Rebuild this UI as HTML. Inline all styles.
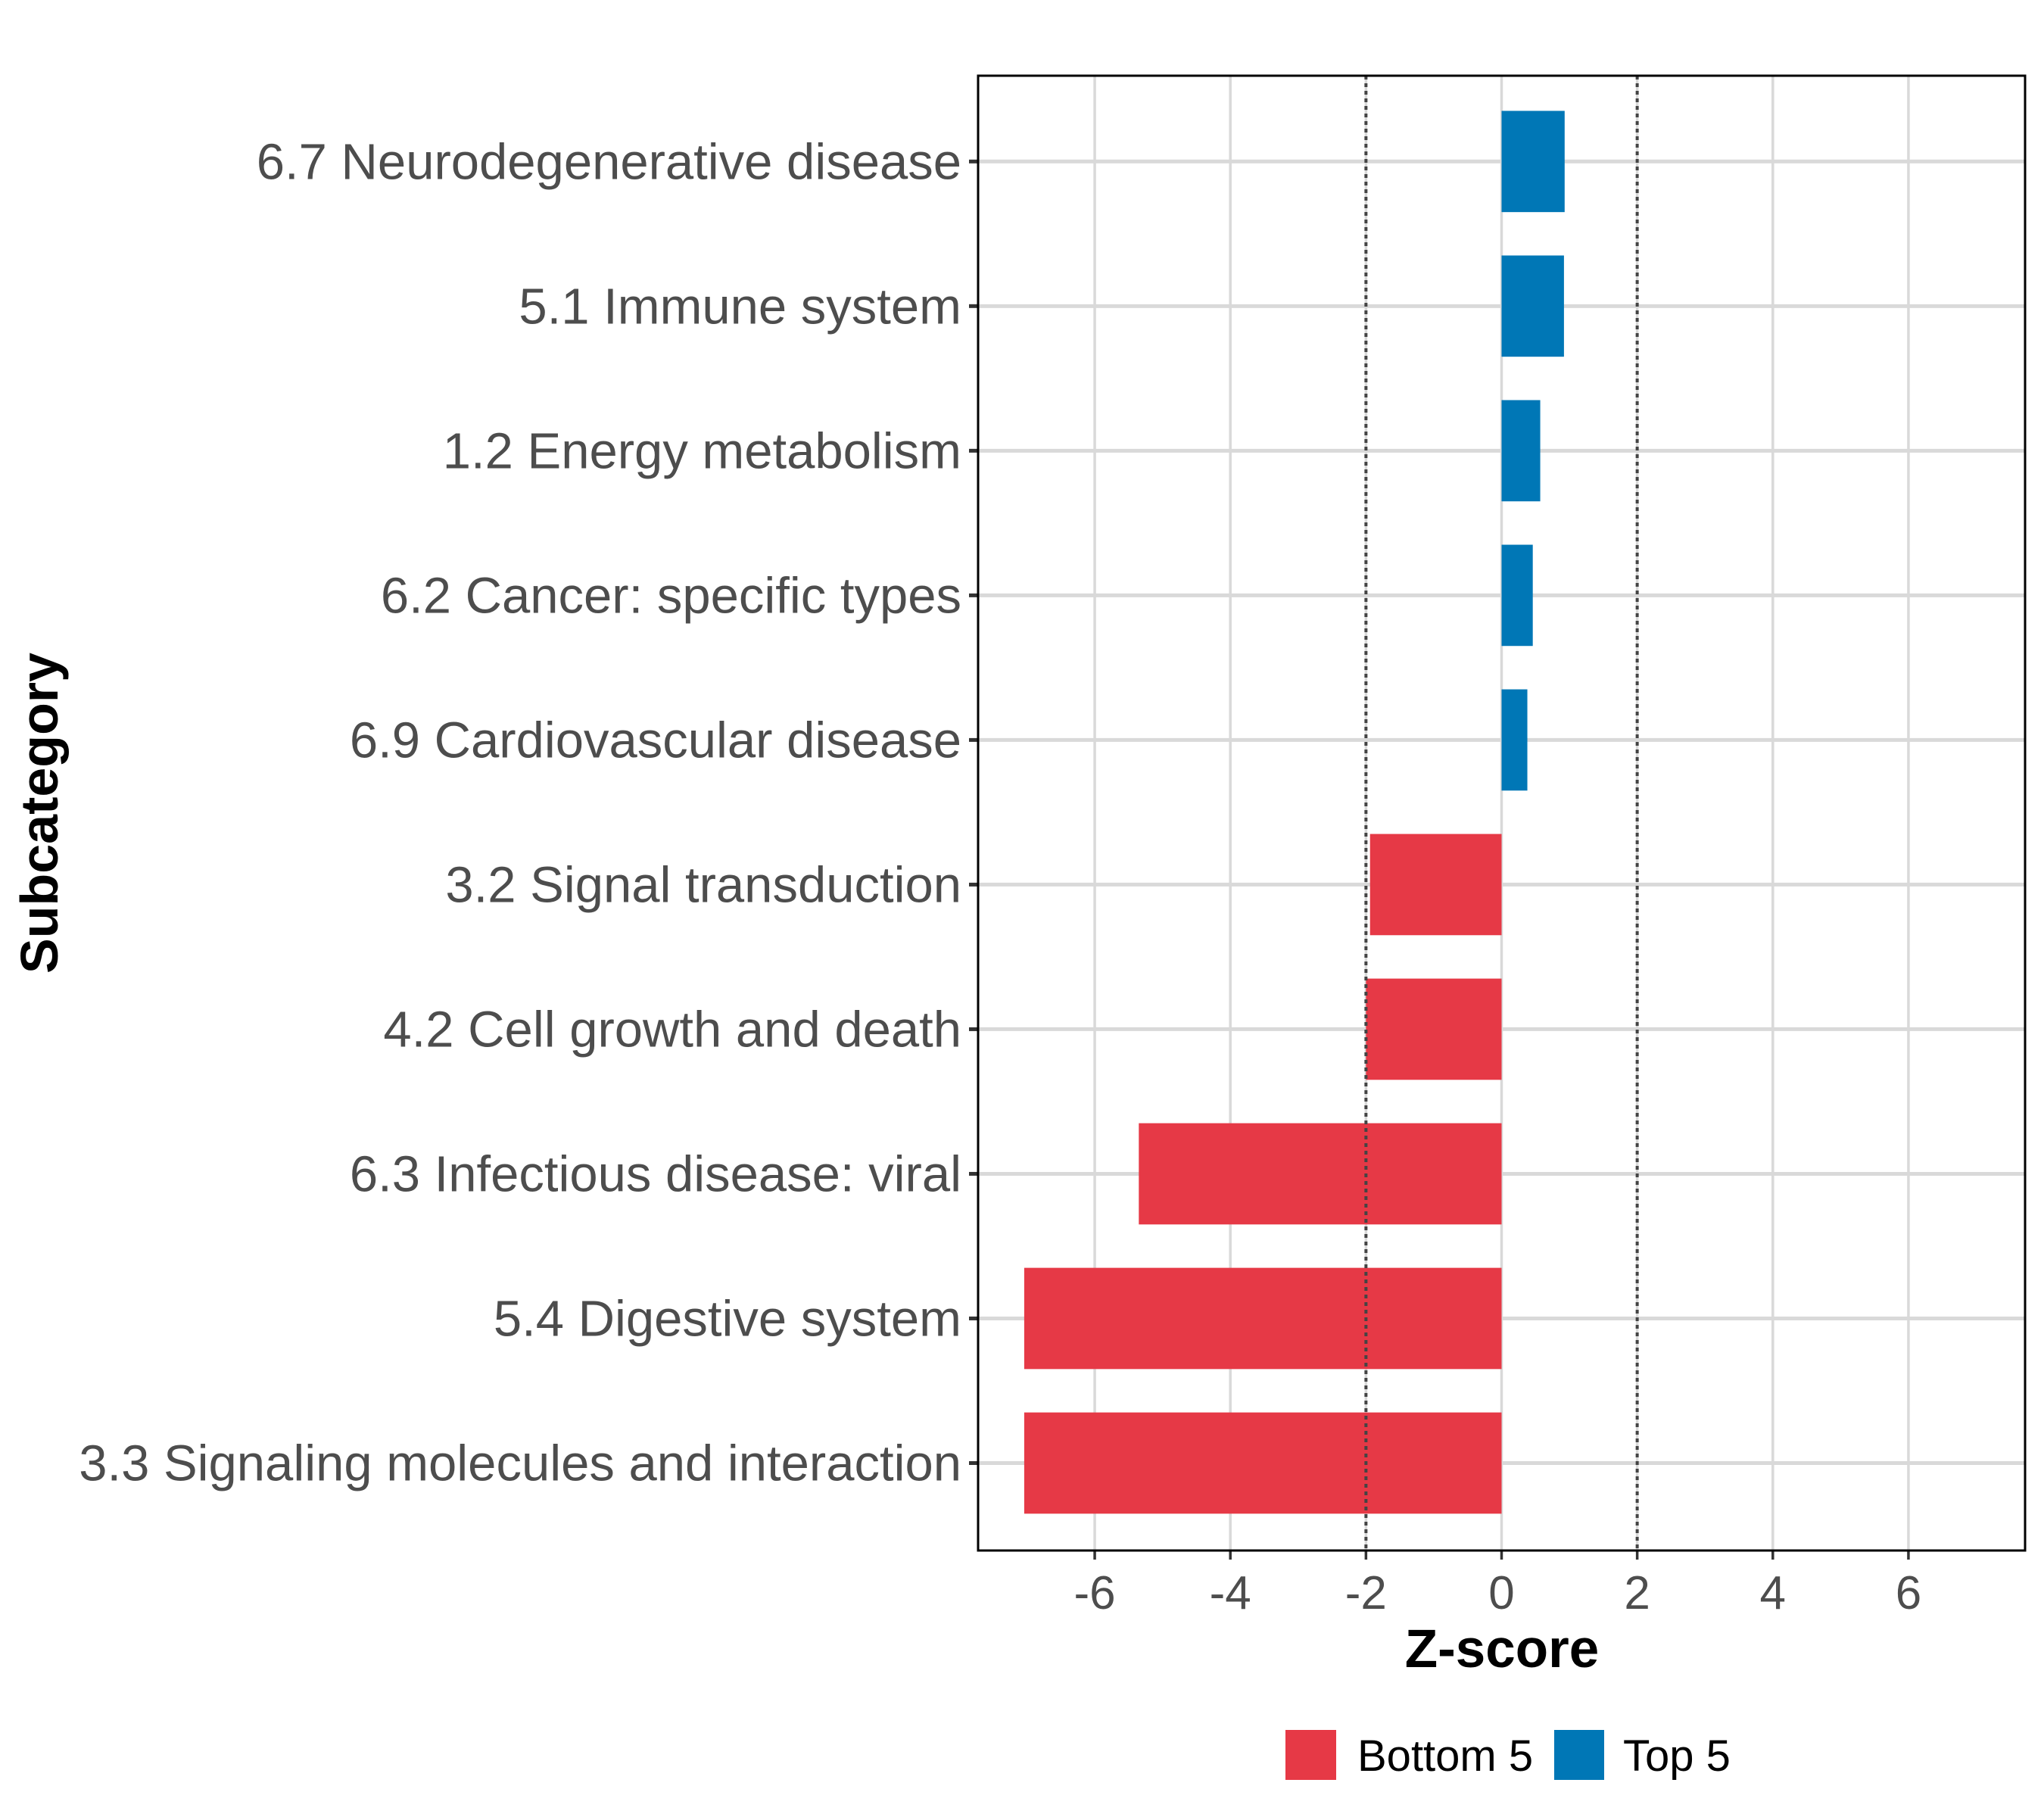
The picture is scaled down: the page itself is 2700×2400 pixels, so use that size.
<!DOCTYPE html>
<html><head><meta charset="utf-8"><style>
html,body{margin:0;padding:0;background:#fff;}
svg{display:block;font-family:"Liberation Sans",Arial,sans-serif;}
</style></head><body>
<svg id="chart" width="2700" height="2400" viewBox="0 0 2700 2400" xmlns="http://www.w3.org/2000/svg">
<rect width="2700" height="2400" fill="#fff"/>
<g id="grid"></g><g id="bars"></g><g id="refs"></g><g id="axes"></g>
<text x="1984" y="2202" font-size="71" font-weight="bold" text-anchor="middle" fill="#000">Z-score</text>
<text transform="translate(76,1074) rotate(-90)" font-size="70" font-weight="bold" text-anchor="middle" fill="#000">Subcategory</text>
<g>
<rect x="1698" y="2285" width="67" height="66" fill="#E63946"/>
<text x="1793" y="2339" font-size="58" fill="#000">Bottom 5</text>
<rect x="2053" y="2285" width="66" height="66" fill="#0077B6"/>
<text x="2144" y="2339" font-size="58" fill="#000">Top 5</text>
</g>
</svg>
<script>
const categories = ["6.7 Neurodegenerative disease","5.1 Immune system","1.2 Energy metabolism","6.2 Cancer: specific types","6.9 Cardiovascular disease","3.2 Signal transduction","4.2 Cell growth and death","6.3 Infectious disease: viral","5.4 Digestive system","3.3 Signaling molecules and interaction"];
const values = [0.93, 0.92, 0.57, 0.46, 0.38, -1.94, -2.0, -5.35, -7.04, -7.04];
const groups = ["Top 5","Top 5","Top 5","Top 5","Top 5","Bottom 5","Bottom 5","Bottom 5","Bottom 5","Bottom 5"];
const xTicks = [-6,-4,-2,0,2,4,6];
const refLines = [-2, 2];

const NS="http://www.w3.org/2000/svg";
const L=1292,R=2675,T=100,B=2048;
const xMin=-7.72,xMax=7.72;
const x=v=>L+(v-xMin)/(xMax-xMin)*(R-L);
const step=(1932.5-213.3)/9;
const y=i=>213.3+i*step;
const bh=step*0.7;
const colors={"Top 5":"#0077B6","Bottom 5":"#E63946"};
function mk(tag,attrs,parent){const e=document.createElementNS(NS,tag);for(const k in attrs)e.setAttribute(k,attrs[k]);parent.appendChild(e);return e;}
const grid=document.getElementById('grid'),bars=document.getElementById('bars'),refs=document.getElementById('refs'),axes=document.getElementById('axes');
mk('rect',{x:L,y:T,width:R-L,height:B-T,fill:'#fff'},grid);
xTicks.forEach(t=>{
  const g=mk('line',{x1:x(t),x2:x(t),y1:T,y2:B,stroke:'#d9d9d9','stroke-width':3.5},grid);
  
  
  const tk=mk('line',{x1:x(t),x2:x(t),y1:B,y2:B+12,stroke:'#333','stroke-width':3.5},axes);
  
  
  const lb=mk('text',{x:x(t),y:2125,'font-size':62,'text-anchor':'middle',fill:'#4d4d4d'},axes);
  lb.textContent=String(t);
  
  
});
categories.forEach((c,i)=>{
  const g=mk('line',{x1:L,x2:R,y1:y(i),y2:y(i),stroke:'#d9d9d9','stroke-width':5},grid);
  
  
  const v=values[i];
  const r=mk('rect',{x:Math.min(x(0),x(v)),y:y(i)-bh/2,width:Math.abs(x(v)-x(0)),height:bh,fill:colors[groups[i]]},bars);
  
  
  const tk=mk('line',{x1:L-12,x2:L,y1:y(i),y2:y(i),stroke:'#333','stroke-width':5},axes);
  
  
  const lb=mk('text',{x:L-22,y:y(i)+23,'font-size':67,'text-anchor':'end',fill:'#4d4d4d'},axes);
  lb.textContent=c;
  
  
});
refLines.forEach(v=>{
  const l=mk('line',{x1:x(v),x2:x(v),y1:T,y2:B,stroke:'#444','stroke-width':4,'stroke-dasharray':'5,5'},refs);
  
  
});
const frame=mk('rect',{x:L,y:T,width:R-L,height:B-T,fill:'none',stroke:'#000','stroke-width':3},axes);


</script>
</body></html>
